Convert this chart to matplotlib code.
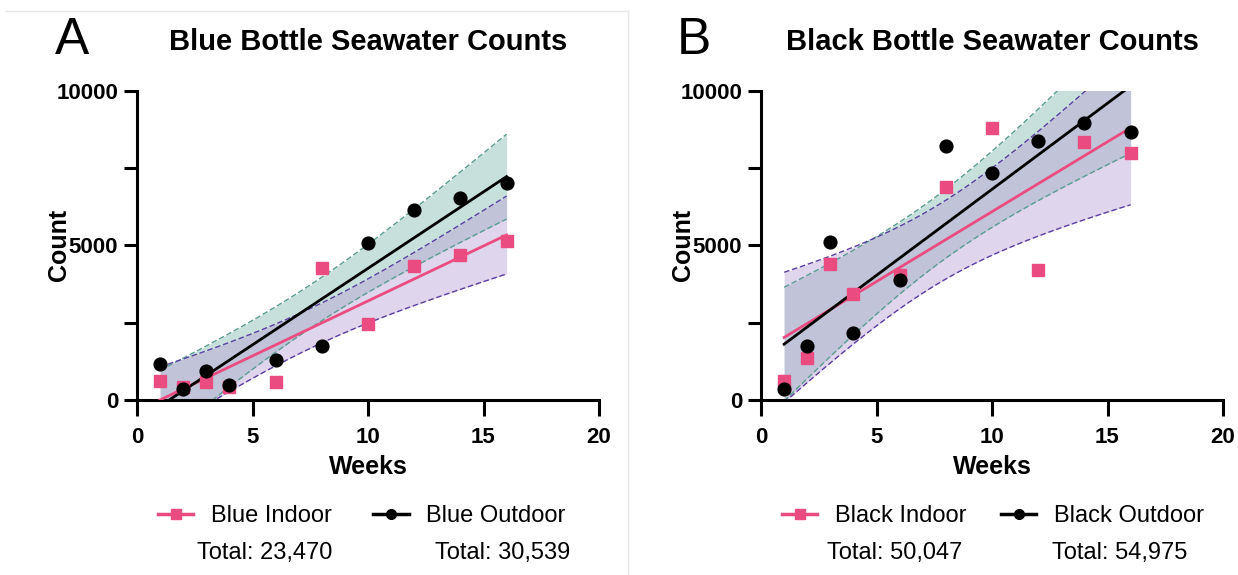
import numpy as np
import matplotlib
matplotlib.use("Agg")
import matplotlib.pyplot as plt
from matplotlib.lines import Line2D

plt.rcParams['font.family'] = ['Liberation Sans', 'DejaVu Sans']

weeks = [1, 2, 3, 4, 6, 8, 10, 12, 14, 16]

blue_indoor = [625, 420, 590, 410, 570, 4260, 2450, 4340, 4690, 5140]
blue_outdoor = [1150, 345, 935, 475, 1290, 1755, 5085, 6140, 6520, 7000]
black_indoor = [615, 1370, 4385, 3425, 4030, 6875, 8805, 4205, 8340, 7995]
black_outdoor = [345, 1755, 5095, 2155, 3890, 8220, 7330, 8360, 8965, 8655]

panels = [
    dict(letter="A", title="Blue Bottle Seawater Counts",
         indoor=blue_indoor, outdoor=blue_outdoor,
         labels=["Blue Indoor", "Blue Outdoor"],
         totals=["Total: 23,470", "Total: 30,539"]),
    dict(letter="B", title="Black Bottle Seawater Counts",
         indoor=black_indoor, outdoor=black_outdoor,
         labels=["Black Indoor", "Black Outdoor"],
         totals=["Total: 50,047", "Total: 54,975"]),
]

x_ticks = [0, 5, 10, 15, 20]
y_ticks = [0, 2500, 5000, 7500, 10000]
y_ticklabels = ["0", "", "5000", "", "10000"]

PINK = "#EA4C82"
BLACK = "#000000"
TEAL_FILL = "#86bcb0"
TEAL_EDGE = "#5a9c90"
PURP_FILL = "#b9a2d6"
PURP_EDGE = "#5b3fa0"

W, H = 1238, 575
fig = plt.figure(figsize=(W / 100, H / 100), dpi=100)


def fx(px):
    return px / W


def fy(py):
    return 1 - py / H


def fit_ci(x, y, xs):
    x = np.asarray(x, float)
    y = np.asarray(y, float)
    n = len(x)
    b, a = np.polyfit(x, y, 1)
    yhat = a + b * x
    s = np.sqrt(np.sum((y - yhat) ** 2) / (n - 2))
    sxx = np.sum((x - x.mean()) ** 2)
    t = 2.306  # t(0.975, df=8)
    fit = a + b * xs
    half = t * s * np.sqrt(1.0 / n + (xs - x.mean()) ** 2 / sxx)
    return fit, fit - half, fit + half


ax_lefts = [137, 761]
ax_w = 462
ax_top, ax_bot = 90.7, 400

for i, p in enumerate(panels):
    L = ax_lefts[i]
    ax = fig.add_axes([fx(L), fy(ax_bot), fx(ax_w), (ax_bot - ax_top) / H])
    xs = np.linspace(min(weeks), max(weeks), 200)

    fo, lo_o, hi_o = fit_ci(weeks, p["outdoor"], xs)
    fi, lo_i, hi_i = fit_ci(weeks, p["indoor"], xs)

    ax.fill_between(xs, lo_o, hi_o, color=TEAL_FILL, alpha=0.45, lw=0, zorder=1)
    ax.fill_between(xs, lo_i, hi_i, color=PURP_FILL, alpha=0.45, lw=0, zorder=1)
    for arr in (lo_o, hi_o):
        ax.plot(xs, arr, color=TEAL_EDGE, lw=1.0, ls=(0, (4, 2)), zorder=2)
    for arr in (lo_i, hi_i):
        ax.plot(xs, arr, color=PURP_EDGE, lw=1.0, ls=(0, (4, 2)), zorder=2)

    ax.plot(xs, fi, color=PINK, lw=2.0, zorder=3)
    ax.plot(xs, fo, color=BLACK, lw=2.0, zorder=4)
    ax.plot(weeks, p["indoor"], ls="none", marker="s", ms=8.6, color=PINK,
            mec=PINK, zorder=5, clip_on=False)
    ax.plot(weeks, p["outdoor"], ls="none", marker="o", ms=9.2, color=BLACK,
            zorder=6, clip_on=False)

    ax.set_xlim(0, 20)
    ax.set_ylim(0, 10000)
    ax.set_xticks(x_ticks)
    ax.set_xticklabels([str(t) for t in x_ticks])
    ax.set_yticks(y_ticks)
    ax.set_yticklabels(y_ticklabels)
    for s in ("top", "right"):
        ax.spines[s].set_visible(False)
    for s in ("left", "bottom"):
        ax.spines[s].set_linewidth(2.2)
    ax.tick_params(axis="y", width=2.2, length=9.5, labelsize=16, pad=4)
    ax.tick_params(axis="x", width=2.2, length=11.5, labelsize=16, pad=8)
    for lab in ax.get_xticklabels() + ax.get_yticklabels():
        lab.set_fontweight("bold")
    ax.patch.set_alpha(0)

    cx = L + ax_w / 2
    fig.text(fx(cx), fy(42), p["title"], ha="center", va="center",
             fontsize=21, fontweight="bold")
    fig.text(fx(L - 82 + (0 if i == 0 else -2)), fy(40), p["letter"], ha="left",
             va="center", fontsize=37)
    fig.text(fx(L - 78), fy(245), "Count", rotation=90, ha="center",
             va="center", fontsize=18, fontweight="bold")
    fig.text(fx(cx), fy(467), "Weeks", ha="center", va="center",
             fontsize=18, fontweight="bold")

    handles = [
        Line2D([], [], color=PINK, lw=2.5, marker="s", ms=7, mec=PINK),
        Line2D([], [], color=BLACK, lw=2.5, marker="o", ms=7),
    ]
    leg = fig.legend(handles, p["labels"], ncol=2, frameon=False,
                     loc="center left",
                     bbox_to_anchor=(fx(L + 21), fy(516)),
                     fontsize=17, handlelength=1.5, handletextpad=0.75,
                     columnspacing=1.75 if i == 0 else 1.45,
                     borderpad=0, borderaxespad=0)
    tot_x = [L + 60, L + 298] if i == 0 else [L + 66, L + 291]
    for tx, tt in zip(tot_x, p["totals"]):
        fig.text(fx(tx), fy(553), tt, ha="left", va="center", fontsize=17)

# faint frame around panel A
fig.add_artist(Line2D([fx(6), fx(628)], [fy(11), fy(11)], color="#e6e6e6", lw=1))
fig.add_artist(Line2D([fx(628), fx(628)], [fy(11), fy(575)], color="#e6e6e6", lw=1))

fig.savefig("out.png", dpi=100)
